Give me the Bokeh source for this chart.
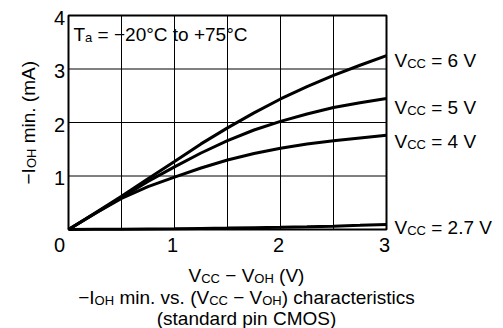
import math
from bokeh.plotting import figure
from bokeh.models import Range1d, Label, BoxAnnotation, GlobalInlineStyleSheet
from bokeh.embed import file_html
from bokeh.resources import INLINE

# ---- data ----
v_diff = [0, 0.25, 0.5, 0.75, 1, 1.25, 1.5, 1.75, 2, 2.25, 2.5, 2.75, 3]
i_6v = [0, 0.31, 0.62, 0.95, 1.27, 1.6, 1.9, 2.18, 2.44, 2.67, 2.88, 3.07, 3.25]
i_5v = [0, 0.30, 0.60, 0.90, 1.17, 1.43, 1.66, 1.86, 2.02, 2.16, 2.28, 2.37, 2.45]
i_4v = [0, 0.30, 0.58, 0.80, 0.98, 1.15, 1.30, 1.42, 1.52, 1.60, 1.66, 1.71, 1.76]
i_27v = [0, 0.003, 0.006, 0.01, 0.014, 0.02, 0.026, 0.033, 0.04, 0.05, 0.062, 0.078, 0.095]
series_names = ["6 V", "5 V", "4 V", "2.7 V"]
x_ticks = [1, 2, 3]
y_ticks = [1, 2, 3, 4]
x_grid = [0.5, 1, 1.5, 2, 2.5]
y_grid = [1, 2, 3]
x_lim = [0, 3]
y_lim = [0, 4]

FONT = "Liberation Sans"
MAIN = 19
SUB = 13
SUB_DROP = 3
TICK = 20

W_PX, H_PX = 503, 328
L, R, T, B = 68, 386, 15, 229   # chart area edges in canvas pixels

# ranges chosen so that the chart area sits at L..R, T..B of the canvas
xs = (x_lim[1] - x_lim[0]) / (R - L)
ys = (y_lim[1] - y_lim[0]) / (B - T)
x_range = Range1d(x_lim[0] - L * xs, x_lim[1] + (W_PX - R) * xs)
y_range = Range1d(y_lim[0] - (H_PX - B) * ys, y_lim[1] + T * ys)

p = figure(width=W_PX, height=H_PX, output_backend="svg", toolbar_location=None,
           x_range=x_range, y_range=y_range,
           x_axis_location=None, y_axis_location=None,
           min_border=0, outline_line_color=None)
p.stylesheets = [GlobalInlineStyleSheet(css="html,body{overflow:hidden;}")]
p.background_fill_color = "white"
p.border_fill_color = "white"
p.grid.visible = False

# grid lines limited to the chart area
p.segment(x0=x_grid, y0=[y_lim[0]] * len(x_grid), x1=x_grid, y1=[y_lim[1]] * len(x_grid),
          line_color="black", line_width=1)
p.segment(x0=[x_lim[0]] * len(y_grid), y0=y_grid, x1=[x_lim[1]] * len(y_grid), y1=y_grid,
          line_color="black", line_width=1)

# chart frame
p.add_layout(BoxAnnotation(left=x_lim[0], right=x_lim[1], bottom=y_lim[0], top=y_lim[1],
                           fill_alpha=0, line_color="black", line_width=2, line_alpha=1))

for yv in (i_6v, i_5v, i_4v, i_27v):
    p.line(v_diff, yv, line_color="black", line_width=3)

# ---- text helpers ----
WID = {' ': 278, '(': 333, ')': 333, '+': 584, '.': 278, '=': 584, '°': 400, '−': 584,
       'A': 667, 'C': 722, 'H': 722, 'I': 278, 'M': 833, 'O': 778, 'S': 667, 'T': 611,
       'V': 667, 'a': 556, 'c': 500, 'd': 556, 'e': 556, 'h': 556, 'i': 222, 'm': 833,
       'n': 556, 'o': 556, 'p': 556, 'r': 333, 's': 500, 't': 278, 'v': 500}


def tw(s, size):
    return sum(WID.get(c, 556) for c in s) / 1000.0 * size


def put(px, py, text, fs, angle=0.0, align="left", baseline="alphabetic"):
    # screen units: origin at the canvas' bottom-left corner, y upwards
    p.add_layout(Label(x=px, y=H_PX - py, x_units="screen", y_units="screen",
                       text=text, angle=angle, text_font=FONT,
                       text_font_size=f"{fs}px", text_align=align,
                       text_baseline=baseline, text_color="black"))


def rich(segs, x_px, base_px, align="left", vertical=False, size=MAIN):
    total = sum(tw(s, SUB if sub else size) for s, sub in segs)
    pos = x_px - total / 2 if align == "center" else x_px
    for s, sub in segs:
        fs = SUB if sub else size
        lead = len(s) - len(s.lstrip(" "))
        shown = s.strip(" ")
        start = pos + (-1 if vertical else 1) * tw(" " * lead, fs)
        if vertical:
            put(base_px + (SUB_DROP if sub else 0), start, shown, fs, angle=math.pi / 2)
            pos -= tw(s, fs)
        else:
            put(start, base_px + (SUB_DROP if sub else 0), shown, fs)
            pos += tw(s, fs)


# tick labels placed through the data scales
for t in x_ticks:
    p.add_layout(Label(x=t, y=y_lim[0], y_offset=-15, x_offset=-2, text=str(t),
                       text_font=FONT, text_font_size=f"{TICK}px", text_align="center",
                       text_baseline="middle", text_color="black"))
for t in y_ticks:
    p.add_layout(Label(x=x_lim[0], y=t, x_offset=-9, y_offset=-2, text=str(t),
                       text_font=FONT, text_font_size=f"{TICK}px", text_align="center",
                       text_baseline="middle", text_color="black"))
p.add_layout(Label(x=x_lim[0], y=y_lim[0], x_offset=-9, y_offset=-15, text="0",
                   text_font=FONT, text_font_size=f"{TICK}px", text_align="center",
                   text_baseline="middle", text_color="black"))

# temperature note
rich([("T", 0), ("a", 1), (" = −20°C to +75°C", 0)], 73, 34)

# curve labels
for name, base in zip(series_names, [60, 107, 141, 227]):
    rich([("V", 0), ("CC", 1), (" = " + name, 0)], 394, base)

# y axis title (rotated)
rich([("−I", 0), ("OH", 1), (" min. (mA)", 0)], 184, 28, vertical=True)

# x axis title and caption
rich([("V", 0), ("CC", 1), (" − V", 0), ("OH", 1), (" (V)", 0)], 246, 275, align="center")
rich([("−I", 0), ("OH", 1), (" min. vs. (V", 0), ("CC", 1), (" − V", 0), ("OH", 1),
      (") characteristics", 0)], 246, 297, align="center")
rich([("(standard pin CMOS)", 0)], 246, 318, align="center")

open("out.html", "w").write(file_html(p, INLINE))
